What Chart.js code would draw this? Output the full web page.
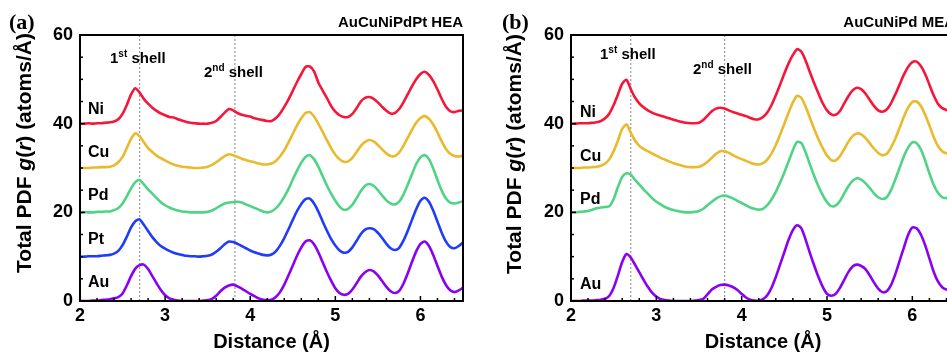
<!DOCTYPE html>
<html><head><meta charset="utf-8">
<script src="https://cdn.jsdelivr.net/npm/chart.js@4/dist/chart.umd.min.js"></script>
<style>
html,body{margin:0;padding:0;background:#fff;overflow:hidden;width:947px;height:352px;}
canvas{position:absolute;top:0;}
</style></head><body>
<canvas id="ca" width="470" height="352" style="left:0;width:470px;height:352px"></canvas>
<canvas id="cb" width="500" height="352" style="left:470px;width:500px;height:352px"></canvas>
<script>
// Distance grid (Å)
const distance = [
2.00,2.05,2.10,2.15,2.20,2.25,2.30,2.35,2.40,2.45,
2.50,2.55,2.60,2.65,2.70,2.75,2.80,2.85,2.90,2.95,
3.00,3.05,3.10,3.15,3.20,3.25,3.30,3.35,3.40,3.45,
3.50,3.55,3.60,3.65,3.70,3.75,3.80,3.85,3.90,3.95,
4.00,4.05,4.10,4.15,4.20,4.25,4.30,4.35,4.40,4.45,
4.50,4.55,4.60,4.65,4.70,4.75,4.80,4.85,4.90,4.95,
5.00,5.05,5.10,5.15,5.20,5.25,5.30,5.35,5.40,5.45,
5.50,5.55,5.60,5.65,5.70,5.75,5.80,5.85,5.90,5.95,
6.00,6.05,6.10,6.15,6.20,6.25,6.30,6.35,6.40,6.45,
6.50];

// (a) AuCuNiPdPt HEA — plotted (offset) total PDF values
const heaNi = [
40.0,40.0,40.1,40.0,40.1,40.1,40.2,40.3,40.5,41.0,
42.2,44.2,46.6,48.0,47.0,45.6,44.5,43.6,42.9,42.3,
41.9,41.5,41.4,41.0,40.7,40.4,40.2,40.1,40.0,40.0,
40.0,40.2,40.6,41.5,42.5,43.3,43.0,42.4,42.0,41.8,
41.6,41.2,41.0,40.8,40.6,40.6,41.2,42.3,43.8,45.5,
47.4,49.4,51.2,52.8,52.9,51.8,49.3,47.5,45.8,44.0,
42.7,41.9,41.5,41.5,42.2,43.5,45.0,45.8,46.0,45.6,
44.8,43.8,42.9,42.3,42.4,43.3,44.8,46.6,48.4,50.0,
51.2,51.7,51.0,49.6,47.7,45.6,43.8,42.8,42.6,42.9,
43.0];
const heaCu = [
30.0,30.0,30.0,30.1,30.1,30.2,30.2,30.3,30.6,31.3,
32.5,34.5,36.6,37.8,37.2,35.8,34.5,33.6,32.8,32.2,
31.7,31.2,30.8,30.5,30.3,30.2,30.1,30.0,30.0,30.1,
30.3,30.7,31.3,32.0,32.7,33.1,32.9,32.5,32.1,31.8,
31.5,31.3,31.0,30.8,30.8,31.0,31.6,32.6,34.0,35.8,
37.7,39.6,41.2,42.4,42.6,41.6,40.0,38.2,36.3,34.5,
33.0,32.0,31.4,31.5,32.3,33.6,35.0,35.9,36.3,36.0,
35.2,34.2,33.3,32.7,32.7,33.5,35.0,36.8,38.6,40.2,
41.3,41.7,41.1,39.8,38.0,36.0,34.3,33.2,32.7,32.6,
32.8];
const heaPd = [
19.9,20.0,20.0,20.0,20.1,20.1,20.2,20.2,20.5,21.0,
22.0,23.6,25.4,26.8,27.3,26.3,25.2,24.2,23.2,22.3,
21.6,21.1,20.7,20.4,20.2,20.1,20.0,20.0,20.0,20.0,
20.1,20.4,20.9,21.5,22.0,22.2,22.3,22.4,22.2,21.8,
21.4,21.0,20.6,20.2,20.0,20.2,20.9,22.0,23.5,25.3,
27.4,29.4,31.2,32.5,32.9,32.0,30.3,28.2,26.1,24.2,
22.6,21.3,20.6,20.8,21.7,23.2,24.8,26.0,26.4,26.0,
25.0,23.8,22.7,22.0,21.8,22.4,24.0,26.2,28.6,30.9,
32.4,32.9,32.0,29.9,27.3,24.9,23.1,22.2,22.0,22.2,
22.5];
const heaPt = [
10.0,10.0,10.1,10.1,10.1,10.2,10.3,10.4,10.7,11.3,
12.6,14.5,16.6,18.0,18.4,17.2,15.8,14.4,13.3,12.4,
11.8,11.3,10.9,10.6,10.4,10.2,10.1,10.1,10.0,10.1,
10.2,10.5,11.1,11.9,12.8,13.4,13.3,12.9,12.4,11.9,
11.4,11.0,10.7,10.4,10.3,10.5,11.2,12.5,14.2,16.2,
18.3,20.3,21.9,23.0,23.1,22.0,20.2,18.0,15.9,14.0,
12.5,11.4,10.9,11.1,12.1,13.6,15.1,16.1,16.4,16.2,
15.4,14.2,12.9,11.9,11.5,12.0,13.6,15.8,18.3,20.7,
22.6,23.3,22.4,20.4,17.9,15.4,13.4,12.2,11.9,12.4,
13.2];
const heaAu = [
0.0,0.0,0.0,0.1,0.1,0.2,0.3,0.4,0.6,0.9,
1.7,3.5,5.6,7.3,8.1,8.2,7.2,5.6,4.0,2.5,
1.3,0.6,0.3,0.1,0.0,0.0,0.0,0.0,0.0,0.1,
0.2,0.5,1.2,2.2,3.0,3.5,3.7,3.3,2.8,2.2,
1.6,1.1,0.6,0.3,0.2,0.3,0.9,2.0,3.7,5.8,
8.0,10.2,12.1,13.4,13.7,12.8,11.0,8.8,6.6,4.6,
2.9,1.8,1.4,1.6,2.6,4.0,5.5,6.5,7.0,6.7,
5.8,4.5,3.2,2.2,1.8,2.3,3.9,6.2,8.8,11.2,
12.9,13.4,12.4,10.4,7.9,5.5,3.6,2.4,2.0,2.4,
3.0];

// (b) AuCuNiPd MEA
const meaNi = [
40.0,40.0,40.1,40.1,40.1,40.2,40.3,40.6,41.2,42.3,
44.2,46.6,49.0,49.9,47.8,45.9,44.6,43.7,43.0,42.5,
42.1,41.8,41.5,41.2,40.9,40.6,40.4,40.2,40.1,40.1,
40.2,40.8,41.8,42.8,43.4,43.6,43.4,43.0,42.6,42.3,
42.0,41.7,41.3,41.0,41.0,41.5,42.5,44.2,46.4,48.8,
51.3,53.6,55.5,56.8,56.2,54.2,51.6,49.1,46.8,44.6,
43.0,42.1,42.0,42.8,44.5,46.2,47.5,48.1,47.8,46.8,
45.4,44.0,43.0,42.7,43.2,44.6,46.6,48.8,51.0,52.8,
53.9,54.0,53.0,51.2,48.8,46.4,44.5,43.5,43.1,43.0,
43.2];
const meaCu = [
30.0,30.0,30.0,30.1,30.1,30.2,30.3,30.5,31.0,32.0,
33.8,36.2,38.8,39.8,38.0,36.2,35.0,34.3,33.8,33.3,
32.8,32.3,31.9,31.5,31.1,30.8,30.5,30.3,30.2,30.2,
30.3,30.7,31.4,32.3,33.2,33.8,33.8,33.4,32.9,32.4,
32.0,31.6,31.2,30.9,30.8,31.1,31.9,33.3,35.2,37.5,
40.0,42.5,44.8,46.3,45.8,43.8,41.3,38.8,36.5,34.5,
32.8,31.8,31.7,32.6,34.2,35.9,37.2,37.8,37.6,36.8,
35.6,34.4,33.4,32.9,33.2,34.6,36.6,39.0,41.5,43.6,
44.9,45.0,44.0,42.0,39.6,37.0,35.0,33.8,33.3,33.2,
33.4];
const meaPd = [
20.0,20.0,20.1,20.2,20.3,20.6,20.9,21.1,21.2,21.4,
23.0,25.7,28.0,28.8,28.5,27.3,26.3,25.2,24.2,23.2,
22.4,21.8,21.2,20.8,20.5,20.3,20.1,20.0,20.0,20.1,
20.3,20.8,21.6,22.4,23.1,23.6,23.8,23.5,23.1,22.6,
22.1,21.6,21.1,20.8,20.6,20.8,21.6,22.9,24.6,26.7,
29.0,31.5,34.0,35.9,35.6,33.5,30.8,28.2,25.9,23.9,
22.3,21.4,21.5,22.5,24.2,25.9,27.1,27.7,27.4,26.6,
25.5,24.3,23.4,23.0,23.4,25.0,27.4,30.0,32.6,34.6,
35.8,35.6,34.2,31.7,28.8,26.2,24.4,23.4,23.2,23.3,
23.6];
const meaAu = [
0.0,0.0,0.0,0.1,0.1,0.1,0.2,0.3,0.5,1.2,
3.0,5.8,8.8,10.6,9.8,8.2,6.5,4.8,3.2,1.9,
1.0,0.4,0.2,0.1,0.0,0.0,0.0,0.0,0.0,0.1,
0.2,0.5,1.5,2.6,3.2,3.6,3.7,3.5,3.1,2.5,
1.6,0.8,0.3,0.1,0.1,0.4,1.3,3.0,5.4,8.2,
11.0,13.8,16.0,17.1,16.4,13.8,10.8,8.0,5.4,3.2,
1.6,1.2,1.6,2.9,4.7,6.5,7.8,8.2,7.9,7.2,
5.8,4.2,2.8,2.0,2.2,3.6,6.0,9.0,12.0,14.9,
16.6,16.4,15.0,12.6,9.6,6.6,4.4,3.1,2.6,2.6,
2.9];

// shell positions (Å)
const shellsHEA = [2.70, 3.82];
const shellsMEA = [2.70, 3.80];
const xTicks = [2, 3, 4, 5, 6];
const yTicks = [0, 20, 40, 60];

const COLORS = {Ni:'#F5163A', Cu:'#E8BA2C', Pd:'#4FD485', Pt:'#1F3CFA', Au:'#8A00F2'};
const SANS = '"Liberation Sans", Arial, Helvetica, sans-serif';
const SERIF = '"Liberation Serif", "Times New Roman", serif';

function curve(name, vals){
  return {label:name, data: distance.map((d,i)=>({x:d, y:vals[i]})),
    borderColor: COLORS[name], borderWidth: 2.6, pointRadius: 0, fill:false,
    tension: 0.25, order: 1};
}
function shellLine(xv){
  return {label:'shell', data:[{x:xv,y:0},{x:xv,y:60}], borderColor:'#9a9a9a',
    borderWidth:1.2, borderDash:[2,2], pointRadius:0, fill:false, order:5};
}

function drawRich(ctx, segs, x, y, align){
  let total = 0;
  segs.forEach(s=>{ ctx.font = s.f; s.w = ctx.measureText(s.t).width; total += s.w; });
  let cx = align === 'center' ? x - total/2 : x;
  segs.forEach(s=>{ ctx.font = s.f; ctx.fillText(s.t, cx, y - (s.up||0)); cx += s.w; });
}

const decor = {
  id: 'decor',
  afterDraw(chart, args, o){
    const ctx = chart.ctx, ca = chart.chartArea;
    const xs = chart.scales.x, ys = chart.scales.y;
    ctx.save();
    ctx.fillStyle = '#000'; ctx.strokeStyle = '#000';
    ctx.lineWidth = 2;
    ctx.strokeRect(ca.left, ca.top, ca.right - ca.left, ca.bottom - ca.top);
    ctx.lineWidth = 1.5;
    for (let i = 0; i <= 22; i++){
      const v = 2 + i*0.2; const px = xs.getPixelForValue(v);
      const len = (i % 5 === 0) ? 5 : 3;
      ctx.beginPath(); ctx.moveTo(px, ca.bottom); ctx.lineTo(px, ca.bottom - len); ctx.stroke();
    }
    for (let v = 0; v <= 60; v += 5){
      const py = ys.getPixelForValue(v);
      const len = (v % 20 === 0) ? 5 : 3;
      ctx.beginPath(); ctx.moveTo(ca.left, py); ctx.lineTo(ca.left + len, py); ctx.stroke();
    }
    ctx.textBaseline = 'alphabetic'; ctx.textAlign = 'left';
    ctx.font = 'bold 22px ' + SERIF;
    ctx.fillText(o.letter, o.letterX, 29);
    ctx.font = 'bold 15px ' + SANS;
    ctx.textAlign = 'right';
    ctx.fillText(o.title, ca.right, 27);
    ctx.textAlign = 'left';
    const big = 'bold 15px ' + SANS, sup = 'bold 10px ' + SANS;
    drawRich(ctx, [{t:'1',f:big},{t:'st',f:sup,up:6},{t:' shell',f:big}], o.s1[0], o.s1[1]);
    drawRich(ctx, [{t:'2',f:big},{t:'nd',f:sup,up:6},{t:' shell',f:big}], o.s2[0], o.s2[1]);
    ctx.font = 'bold 16px ' + SANS; ctx.textBaseline = 'middle';
    o.labels.forEach((l,i)=>{ ctx.fillText(l, o.labelX, o.labelY[i]); });
    ctx.save();
    ctx.translate(o.yTitle[0], o.yTitle[1]); ctx.rotate(-Math.PI/2);
    const b = 'bold 21px ' + SANS, it = 'italic bold 21px ' + SANS;
    drawRich(ctx, [{t:'Total PDF ',f:b},{t:'g',f:it},{t:'(',f:b},{t:'r',f:it},{t:') (atoms/Å)',f:b}], 0, 0, 'center');
    ctx.restore();
    ctx.restore();
  }
};

function makeOptions(yAxisWidth, padRight, deco){
  return {
    responsive:false, animation:false,
    layout:{padding:{left:0, top:35, right:padRight, bottom:0}},
    plugins:{legend:{display:false}, tooltip:{enabled:false}, decor: deco},
    scales:{
      x:{type:'linear', min:2, max:6.5,
        afterBuildTicks(s){ s.ticks = xTicks.map(v=>({value:v})); },
        ticks:{font:{family:SANS, size:18, weight:'bold'}, color:'#000', padding:4, maxRotation:0},
        grid:{display:false, drawTicks:false}, border:{display:false},
        title:{display:true, text:'Distance (Å)', color:'#000', font:{family:SANS, size:20, weight:'bold', lineHeight:1}, padding:{top:0,bottom:0}},
        afterFit(s){ s.height = 51; }
      },
      y:{type:'linear', min:0, max:60,
        afterBuildTicks(s){ s.ticks = yTicks.map(v=>({value:v})); },
        ticks:{font:{family:SANS, size:18, weight:'bold'}, color:'#000', padding:7},
        grid:{display:false, drawTicks:false}, border:{display:false},
        afterFit(s){ s.width = yAxisWidth; }
      }
    }
  };
}

new Chart(document.getElementById('ca'), {
  type:'line',
  data:{datasets:[
    curve('Ni', heaNi), curve('Cu', heaCu), curve('Pd', heaPd), curve('Pt', heaPt), curve('Au', heaAu),
    ...shellsHEA.map(shellLine)
  ]},
  options: makeOptions(80, 7, {
    letter:'(a)', letterX:9, title:'AuCuNiPdPt HEA',
    s1:[110,63], s2:[204,77],
    labels:['Ni','Cu','Pd','Pt','Au'], labelX:88, labelY:[110,153,196,240,283],
    yTitle:[25,153]
  }),
  plugins:[decor]
});

new Chart(document.getElementById('cb'), {
  type:'line',
  data:{datasets:[
    curve('Ni', meaNi), curve('Cu', meaCu), curve('Pd', meaPd), curve('Au', meaAu),
    ...shellsMEA.map(shellLine)
  ]},
  options: makeOptions(101, 15, {
    letter:'(b)', letterX:32, title:'AuCuNiPd MEA',
    s1:[130,59], s2:[223,74],
    labels:['Ni','Cu','Pd','Au'], labelX:110, labelY:[113,157,200,285],
    yTitle:[45,154]
  }),
  plugins:[decor]
});
</script>
</body></html>
